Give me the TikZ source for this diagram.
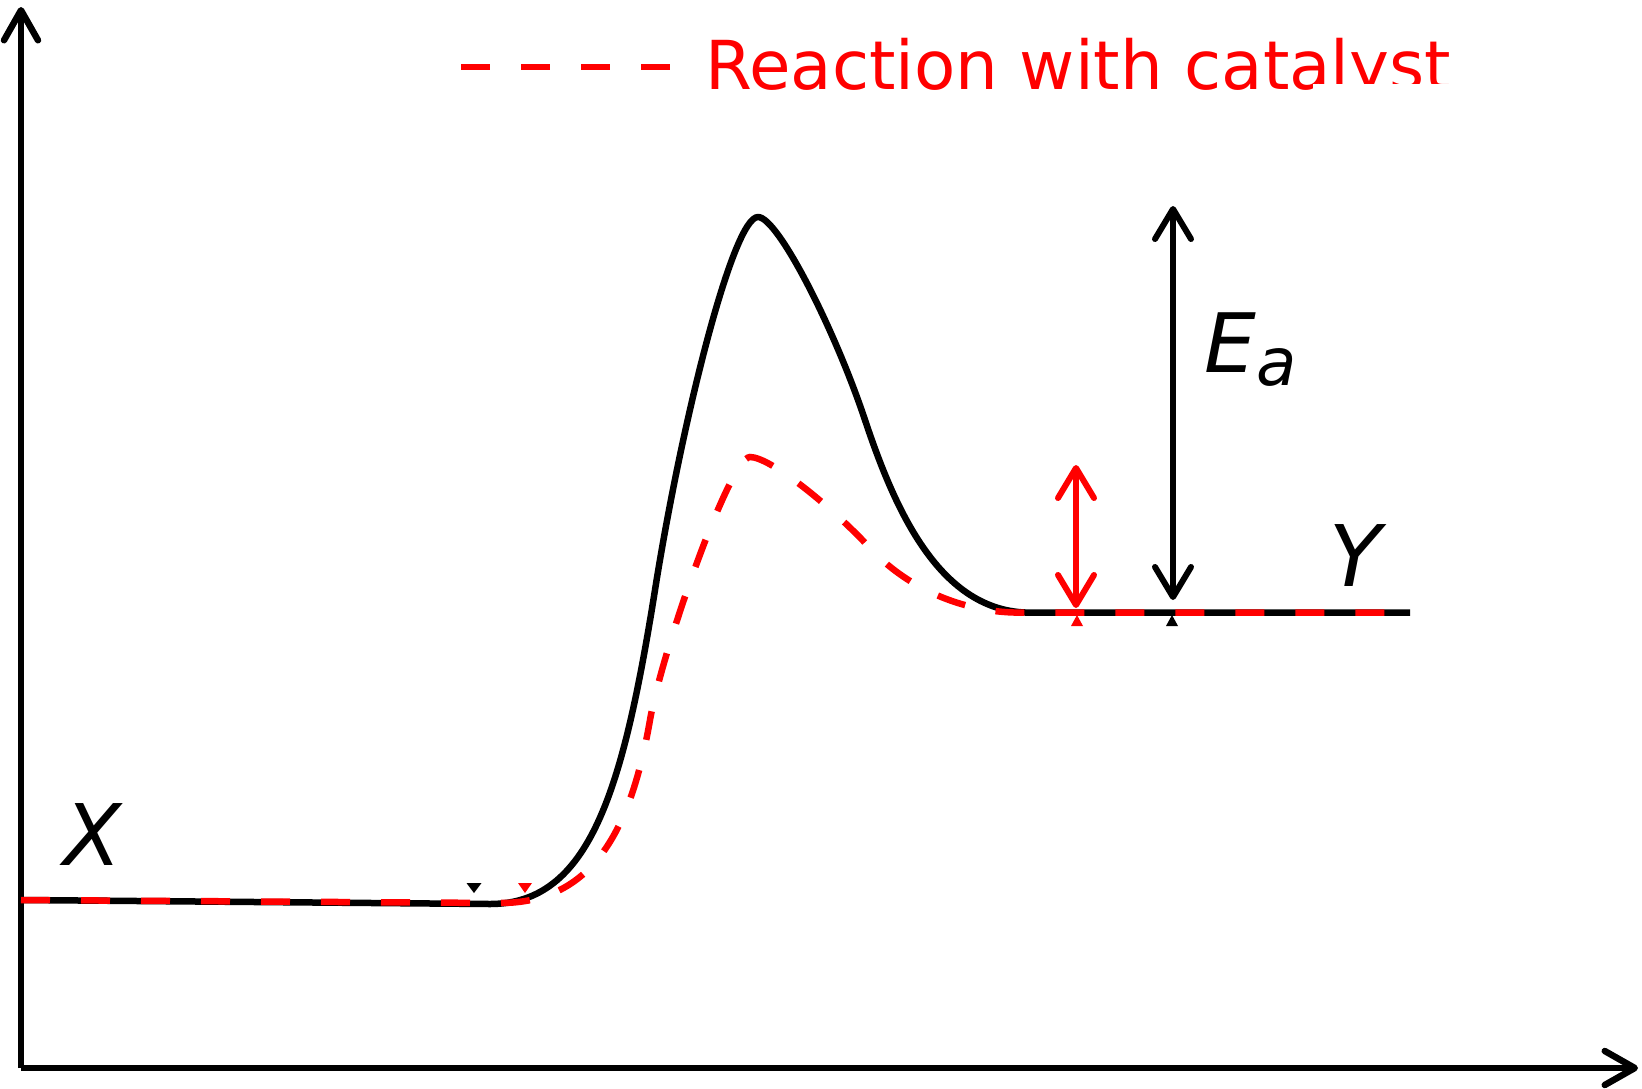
\documentclass[tikz,border=0pt]{standalone}
\usepackage{fontspec}
\setmainfont{DejaVu Sans}
\usetikzlibrary{arrows.meta}
\begin{document}
\begin{tikzpicture}[x=1pt,y=-1pt,
  axis/.style={line width=6.5pt,-{Straight Barb[length=30pt,width=34pt,round]}},
  curveblack/.style={line width=6.5pt,black,line join=round},
  curvered/.style={line width=6.5pt,red,dash pattern=on 29pt off 31pt},
  dblarrow/.style={line width=6pt,{Straight Barb[length=30pt,width=36pt,round]}-{Straight Barb[length=30pt,width=36pt,round]}},
  lbl/.style={inner sep=0pt,font=\fontsize{85}{90}\selectfont\itshape}
]
\useasboundingbox (0,0) rectangle (1642,1088);
% axes
\coordinate (O) at (21,1068);
\coordinate (ytop) at (21,7);
\coordinate (xend) at (1638,1068);
\draw[axis] (O) -- (ytop);
\draw[axis] (O) -- (xend);
% black curve
\draw[curveblack] (21,900) -- (490,904)
  .. controls (590,904) and (623,790) .. (655,590)
  .. controls (682,420) and (733,217) .. (758,217)
  .. controls (778,217) and (835,330) .. (865,420)
  .. controls (895,510) and (940,612.6) .. (1030,612.6)
  -- (1410,612.6);
% red dashed curve
\draw[curvered] (21,900) -- (500,903)
  .. controls (590,903) and (630,835) .. (650,720)
  .. controls (662,651) and (730,457) .. (750,457)
  .. controls (770,457) and (830,505) .. (870,548)
  .. controls (905,586) and (960,612.6) .. (1020,612.6)
  -- (1410,612.6);
% small markers
\fill[black] (466.5,883) -- (481.5,883) -- (474,893) -- cycle;
\fill[red] (518,883) -- (532,883) -- (525,893) -- cycle;
\fill[red] (1071,626) -- (1083,626) -- (1077,615) -- cycle;
\fill[black] (1166,626) -- (1178,626) -- (1172,615) -- cycle;
% arrows
\coordinate (eatop) at (1173,206);
\coordinate (eabot) at (1173,600);
\coordinate (cattop) at (1076,465);
\coordinate (catbot) at (1076,608);
\draw[dblarrow,black] (eabot) -- (eatop);
\draw[dblarrow,red] (catbot) -- (cattop);
% labels
\node[lbl,anchor=base] (X) at (93,865) {X};
\node[lbl,anchor=base] (Y) at (1355,586) {Y};
\node[inner sep=0pt,anchor=base west] (Ea) at (1204,372) {\fontsize{82}{90}\selectfont\itshape E\raisebox{-13pt}{\fontsize{66}{70}\selectfont\itshape a}};
% legend
\coordinate (lgA) at (461,67);
\coordinate (lgB) at (672,67);
\draw[line width=6.5pt,red,dash pattern=on 29pt off 31pt] (lgA) -- (lgB);
\begin{scope}
\clip (690,0) -- (1500,0) -- (1500,83.5) -- (1312,83.5) -- (1312,89.5) -- (690,89.5) -- cycle;
\node[inner sep=0pt,anchor=base west,text=red,font=\fontsize{67.5}{72}\selectfont] (leg) at (705,89) {Reaction with catalyst};
\end{scope}
\end{tikzpicture}
\end{document}
